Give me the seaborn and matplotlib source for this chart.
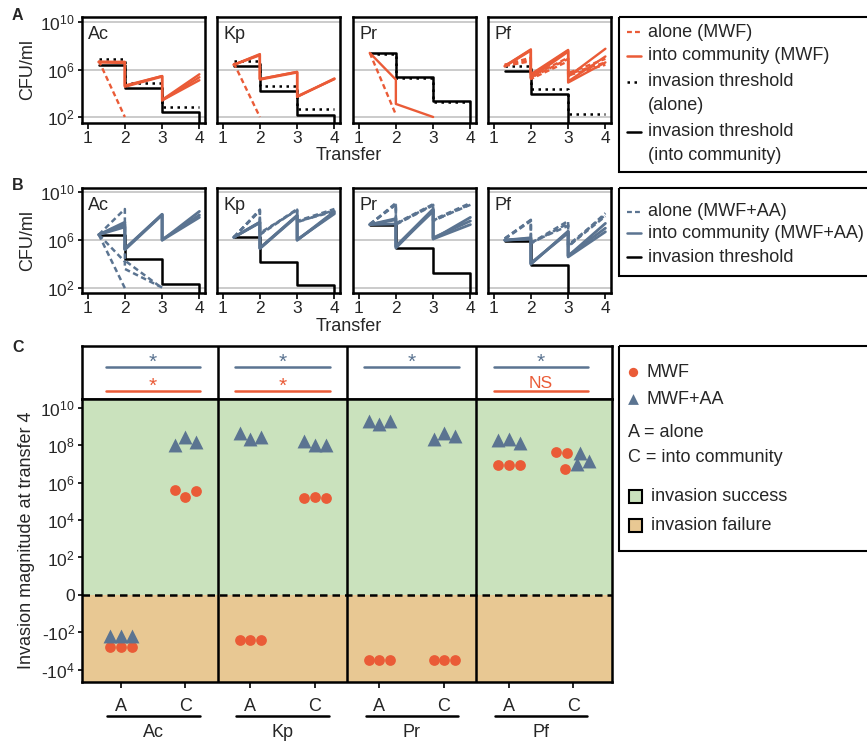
import numpy as np
import pandas as pd
import matplotlib.pyplot as plt
from matplotlib.patches import Rectangle
from matplotlib.ticker import NullLocator
import seaborn as sns

sns.set_theme(style='white')
plt.rcParams['font.family'] = ['Liberation Sans', 'DejaVu Sans']
plt.rcParams['mathtext.default'] = 'regular'

RED = '#EA5B37'
BLUE = '#5B7491'
GREEN = '#CAE2BD'
TAN = '#E8C893'
GRID = '#BDBDBD'

species = ['Ac', 'Kp', 'Pr', 'Pf']
transfer_ticks = [1, 2, 3, 4]

# start of growth, end of growth / dilution, ... along the transfers
saw_x = [1.3, 2, 2, 3, 3, 4]
step_x = [1.3, 2, 2, 3, 3, 4, 4]
floor = 1.0  # below detection, falls off the axis

# panel A (MWF): log10 CFU/ml
a_alone = {
    'Ac': [[6.75, 2.0]],
    'Kp': [[6.55, 2.0]],
    'Pr': [[7.4, 2.2]],
    'Pf': [[6.4, 7.0, 5.3, 6.9, 5.6, 6.6],
           [6.4, 6.8, 5.4, 7.0, 5.7, 6.9],
           [6.3, 6.7, 5.2, 6.7, 5.5, 6.4]],
}
a_comm = {
    'Ac': [[6.65, 6.6, 4.6, 5.45, 3.45, 5.6],
           [6.65, 6.65, 4.65, 5.45, 3.4, 5.35],
           [6.6, 6.55, 4.55, 5.4, 3.4, 5.1]],
    'Kp': [[6.4, 7.3, 5.2, 5.8, 3.7, 5.2],
           [6.4, 7.2, 5.15, 5.75, 3.7, 5.25],
           [6.4, 7.25, 5.2, 5.8, 3.75, 5.2]],
    'Pr': [[7.4, 5.15, 3.1, 2.0]],
    'Pf': [[6.3, 7.7, 5.5, 7.6, 5.4, 7.75],
           [6.3, 7.65, 5.3, 7.5, 5.0, 7.1],
           [6.25, 7.6, 5.6, 7.65, 4.9, 6.6]],
}
a_thr_alone = {'Ac': [6.89, 4.88, 2.88], 'Kp': [6.69, 4.63, 2.68],
               'Pr': [7.34, 5.28, 3.24], 'Pf': [6.3, 4.34, 2.28]}
a_thr_comm = {'Ac': [6.41, 4.43, 2.40], 'Kp': [6.27, 4.23, 2.2],
              'Pr': [7.42, 5.36, 3.36], 'Pf': [5.9, 3.9, floor]}

# panel B (MWF+AA): log10 CFU/ml
b_alone = {
    'Ac': [[6.46, 8.6, 4.3, 2.0],
           [6.46, 4.2, 3.6, 2.05],
           [6.46, 2.0]],
    'Kp': [[6.24, 8.5, 6.5, 8.6, 7.6, 8.6],
           [6.24, 8.45, 6.6, 8.5, 7.5, 8.5],
           [6.24, 8.55, 6.45, 8.55, 7.55, 8.4]],
    'Pr': [[7.3, 9.1, 7.4, 9.0, 7.7, 9.1],
           [7.3, 9.0, 7.3, 8.9, 7.6, 9.0],
           [7.35, 8.95, 7.35, 8.95, 7.65, 8.95]],
    'Pf': [[6.14, 7.7, 5.72, 7.4, 5.44, 8.25],
           [6.1, 7.6, 5.8, 7.2, 5.5, 8.0],
           [6.14, 7.65, 5.75, 7.6, 5.6, 8.1]],
}
b_comm = {
    'Ac': [[6.46, 7.5, 5.25, 8.16, 6.0, 8.4],
           [6.46, 7.1, 5.2, 8.1, 6.05, 8.1],
           [6.46, 7.3, 5.3, 8.15, 6.0, 7.9]],
    'Kp': [[6.24, 7.5, 5.33, 8.07, 6.0, 8.4],
           [6.24, 7.45, 5.3, 8.0, 6.0, 8.3],
           [6.24, 7.5, 5.35, 8.05, 6.05, 8.2]],
    'Pr': [[7.3, 7.8, 5.35, 8.5, 6.1, 7.9],
           [7.3, 7.7, 5.5, 8.6, 6.2, 7.6],
           [7.3, 7.35, 5.45, 8.4, 6.1, 7.3]],
    'Pf': [[6.0, 6.14, 4.03, 6.7, 4.68, 7.4],
           [6.0, 6.1, 4.1, 6.6, 4.7, 7.0],
           [6.0, 6.2, 4.0, 6.75, 4.6, 6.7]],
}
b_thr = {'Ac': [6.46, 4.40, 2.37], 'Kp': [6.24, 4.20, 2.23],
         'Pr': [7.26, 5.32, 3.30], 'Pf': [5.92, 3.89, floor]}

# panel C: signed log10 invasion magnitude at transfer 4 (3 replicates)
c_mwf = {
    'Ac': {'A': [-2.79, -2.79, -2.79], 'C': [5.58, 5.23, 5.55]},
    'Kp': {'A': [-2.4, -2.4, -2.4], 'C': [5.16, 5.23, 5.19]},
    'Pr': {'A': [-3.47, -3.47, -3.47], 'C': [-3.47, -3.47, -3.47]},
    'Pf': {'A': [6.95, 6.93, 6.93], 'C': [7.63, 7.57, 6.72]},
}
c_aa = {
    'Ac': {'A': [-2.17, -2.17, -2.17], 'C': [7.98, 8.44, 8.14]},
    'Kp': {'A': [8.64, 8.30, 8.41], 'C': [8.23, 8.0, 8.0]},
    'Pr': {'A': [9.30, 9.14, 9.30], 'C': [8.30, 8.66, 8.50]},
    'Pf': {'A': [8.27, 8.30, 8.12], 'C': [7.56, 7.15, 6.97]},
}
sig_aa = ['*', '*', '*', '*']
sig_mwf = ['*', '*', None, 'NS']
c_ticks = [10, 8, 6, 4, 2, 0, -2, -4]
c_ticklabels = ['$10^{10}$', '$10^{8}$', '$10^{6}$', '$10^{4}$', '$10^{2}$', '0',
                '-$10^{2}$', '-$10^{4}$']

# replicate spread in panel C
jitter = [-0.16, 0.0, 0.17]
pf_c_jitter = {'MWF': [-0.27, -0.09, -0.13], 'MWF+AA': [0.10, 0.24, 0.06]}


def to_frame(series, xs, levels=False):
    rows = []
    for sp, reps in series.items():
        if levels:
            v = reps
            reps = [[v[0], v[0], v[1], v[1], v[2], v[2], floor]]
        for r, ys in enumerate(reps):
            for x, y in zip(xs, ys):
                rows.append({'species': sp, 'rep': r, 'x': x, 'cfu': 10.0 ** y})
    return pd.DataFrame(rows)


W, H = 867, 741
fig = plt.figure(figsize=(W / 100, H / 100), dpi=100)

AX_LEFT = [82, 217, 353, 488]
AX_W = 123
DASH = (0, (2.2, 1.4))
DOT = (0, (1, 1.8))


def cfu_row(top, bottom, ylim, layers):
    for i, sp in enumerate(species):
        ax = fig.add_axes([AX_LEFT[i] / W, 1 - bottom / H, AX_W / W, (bottom - top) / H])
        ax.set_yscale('log')
        for g in [1e2, 1e6, 1e10]:
            ax.axhline(g, color=GRID, lw=1.1, zorder=0)
        for df, color, ls, lw in layers:
            sub = df[df['species'] == sp]
            sns.lineplot(data=sub, x='x', y='cfu', units='rep', estimator=None,
                         sort=False, color=color, linestyle=ls, lw=lw, ax=ax,
                         legend=False)
        ax.set_xlim(0.85, 4.15)
        ax.set_ylim(10 ** ylim[0], 10 ** ylim[1])
        ax.set_xticks(transfer_ticks)
        ax.set_xticklabels([str(t) for t in transfer_ticks])
        ax.yaxis.set_minor_locator(NullLocator())
        ax.set_xlabel('')
        ax.set_ylabel('')
        ax.tick_params(axis='x', bottom=True, length=4, width=1.2, pad=2,
                       labelsize=12.5, color='black')
        if i == 0:
            ax.set_yticks([1e2, 1e6, 1e10])
            ax.set_yticklabels(['$10^{2}$', '$10^{6}$', '$10^{10}$'])
            ax.tick_params(axis='y', left=True, length=3, width=1.2, pad=2,
                           labelsize=12.5, color='black')
        else:
            ax.set_yticks([])
        for s in ax.spines.values():
            s.set_color('black')
            s.set_linewidth(1.8)
        ax.text(0.05, 0.83, sp, transform=ax.transAxes, fontsize=13,
                ha='left', va='center')


a_layers = [
    (to_frame(a_thr_alone, step_x[:6], levels=True), 'black', DOT, 1.8),
    (to_frame(a_thr_comm, step_x, levels=True), 'black', '-', 1.8),
    (to_frame(a_alone, saw_x), RED, DASH, 1.7),
    (to_frame(a_comm, saw_x), RED, '-', 1.7),
]
cfu_row(16.7, 122.7, (1.52, 10.45), a_layers)

b_layers = [
    (to_frame(b_thr, step_x, levels=True), 'black', '-', 1.8),
    (to_frame(b_alone, saw_x), BLUE, DASH, 1.8),
    (to_frame(b_comm, saw_x), BLUE, '-', 2.0),
]
cfu_row(188, 292.7, (1.62, 10.35), b_layers)

# ---- panel C
C_LEFT, C_RIGHT = 82, 612
strip = fig.add_axes([C_LEFT / W, 1 - 399.3 / H, (C_RIGHT - C_LEFT) / W, 53.3 / H])
axc = fig.add_axes([C_LEFT / W, 1 - 682.3 / H, (C_RIGHT - C_LEFT) / W, 283 / H])

rows = []
for g, sp in enumerate(species):
    for cond in ['A', 'C']:
        for medium, src in [('MWF', c_mwf), ('MWF+AA', c_aa)]:
            offs = pf_c_jitter[medium] if (sp == 'Pf' and cond == 'C') else jitter
            for r, t in enumerate(src[sp][cond]):
                rows.append({'species': sp, 'cond': cond, 'medium': medium,
                             'x': 2 * g + (cond == 'C') + offs[r], 'mag': t})
cdf = pd.DataFrame(rows)

ymin, ymax = -4.66, 10.44
axc.axhspan(0, ymax, color=GREEN, zorder=0, lw=0)
axc.axhspan(ymin, 0, color=TAN, zorder=0, lw=0)
for xv in [1.5, 3.5, 5.5]:
    axc.axvline(xv, color='black', lw=1.8, zorder=1)
    strip.axvline(xv, color='black', lw=1.8)
axc.axhline(0, color='black', lw=1.8, linestyle=(0, (3, 2)), zorder=1)

sns.scatterplot(data=cdf[cdf['medium'] == 'MWF'], x='x', y='mag', color=RED,
                marker='o', s=60, linewidth=0, ax=axc, legend=False, zorder=3)
sns.scatterplot(data=cdf[cdf['medium'] == 'MWF+AA'], x='x', y='mag', color=BLUE,
                marker='^', s=100, linewidth=0, ax=axc, legend=False, zorder=3)

axc.set_xlim(-0.6, 7.6)
axc.set_ylim(ymin, ymax)
axc.set_xticks(range(8))
axc.set_xticklabels(['A', 'C'] * 4)
axc.set_yticks(c_ticks)
axc.set_yticklabels(c_ticklabels)
axc.set_xlabel('')
axc.set_ylabel('')
axc.tick_params(axis='x', bottom=True, length=4, width=1.2, pad=7, labelsize=13, color='black')
axc.tick_params(axis='y', left=True, length=3, width=1.2, pad=2, labelsize=12.5, color='black')
for s in axc.spines.values():
    s.set_color('black')
    s.set_linewidth(1.8)

xt = axc.get_xaxis_transform()
for g, sp in enumerate(species):
    axc.plot([2 * g - 0.21, 2 * g + 1.22], [-0.118, -0.118], color='black', lw=1.8,
             transform=xt, clip_on=False)
    axc.text(2 * g + 0.5, -0.178, sp, transform=xt, ha='center', va='center', fontsize=13)

strip.set_xlim(-0.6, 7.6)
strip.set_ylim(0, 1)
strip.set_xticks([])
strip.set_yticks([])
for s in strip.spines.values():
    s.set_color('black')
    s.set_linewidth(1.8)
for g in range(4):
    x0, x1 = 2 * g - 0.23, 2 * g + 1.23
    strip.plot([x0, x1], [0.61, 0.61], color=BLUE, lw=1.8)
    strip.text(2 * g + 0.5, 0.69, sig_aa[g], color=BLUE, ha='center', va='center', fontsize=15)
    if sig_mwf[g]:
        strip.plot([x0, x1], [0.16, 0.16], color=RED, lw=1.8)
        if sig_mwf[g] == '*':
            strip.text(2 * g + 0.5, 0.24, '*', color=RED, ha='center', va='center', fontsize=15)
        else:
            strip.text(2 * g + 0.5, 0.29, sig_mwf[g], color=RED, ha='center', va='center', fontsize=12.5)

# ---- labels and legends, placed in pixel coordinates
ov = fig.add_axes([0, 0, 1, 1], zorder=10)
ov.set_xlim(0, W)
ov.set_ylim(H, 0)
ov.axis('off')
ov.patch.set_alpha(0)

for lab, y in [('A', 15), ('B', 186), ('C', 348)]:
    ov.text(12, y, lab, fontsize=11.5, fontweight='bold', ha='left', va='center')
for y in [69.7, 240.3]:
    ov.text(28, y, 'CFU/ml', fontsize=13, rotation=90, ha='center', va='center')
for y in [155, 326.5]:
    ov.text(349, y, 'Transfer', fontsize=13, ha='center', va='center')
ov.text(27, 540, 'Invasion magnitude at transfer 4', fontsize=13, rotation=90,
        ha='center', va='center')

TX = 647.7
LEG_FS = 13
# legend A
ov.add_patch(Rectangle((619, 16.7), 270, 155.3, fill=False, ec='black', lw=1.5, clip_on=False))
ov.plot([627, 641], [32.3, 32.3], color=RED, lw=1.6, linestyle=DASH)
ov.text(TX, 32.3, 'alone (MWF)', fontsize=LEG_FS, va='center')
ov.plot([627, 641], [56, 56], color=RED, lw=1.8)
ov.text(TX, 56, 'into community (MWF)', fontsize=LEG_FS, va='center')
ov.plot([627, 641], [82, 82], color='black', lw=1.8, linestyle=DOT)
ov.text(TX, 82, 'invasion threshold', fontsize=LEG_FS, va='center')
ov.text(TX, 106, '(alone)', fontsize=LEG_FS, va='center')
ov.plot([627, 641], [131.7, 131.7], color='black', lw=1.8)
ov.text(TX, 131.7, 'invasion threshold', fontsize=LEG_FS, va='center')
ov.text(TX, 155, '(into community)', fontsize=LEG_FS, va='center')

# legend B
ov.add_patch(Rectangle((619, 188), 270, 88, fill=False, ec='black', lw=1.5, clip_on=False))
ov.plot([627, 641], [211.7, 211.7], color=BLUE, lw=1.6, linestyle=DASH)
ov.text(TX, 211.7, 'alone (MWF+AA)', fontsize=LEG_FS, va='center')
ov.plot([627, 641], [233, 233], color=BLUE, lw=1.8)
ov.text(TX, 233, 'into community (MWF+AA)', fontsize=LEG_FS, va='center')
ov.plot([627, 641], [257, 257], color='black', lw=1.8)
ov.text(TX, 257, 'invasion threshold', fontsize=LEG_FS, va='center')

# legend C
ov.add_patch(Rectangle((619, 346), 270, 205, fill=False, ec='black', lw=1.5, clip_on=False))
ov.scatter([633.3], [372.3], s=45, color=RED, marker='o', lw=0)
ov.text(646, 372.3, 'MWF', fontsize=LEG_FS, va='center')
ov.scatter([633.3], [399], s=60, color=BLUE, marker='^', lw=0)
ov.text(646, 399, 'MWF+AA', fontsize=LEG_FS, va='center')
ov.text(628.3, 432.7, 'A = alone', fontsize=LEG_FS, va='center')
ov.text(628.3, 457.3, 'C = into community', fontsize=LEG_FS, va='center')
ov.add_patch(Rectangle((629.3, 490), 13, 13, fc=GREEN, ec='black', lw=1.5))
ov.text(651, 496.7, 'invasion success', fontsize=LEG_FS, va='center')
ov.add_patch(Rectangle((629.3, 518.5), 13, 13, fc=TAN, ec='black', lw=1.5))
ov.text(651, 525, 'invasion failure', fontsize=LEG_FS, va='center')

fig.savefig('out.png', dpi=100)
